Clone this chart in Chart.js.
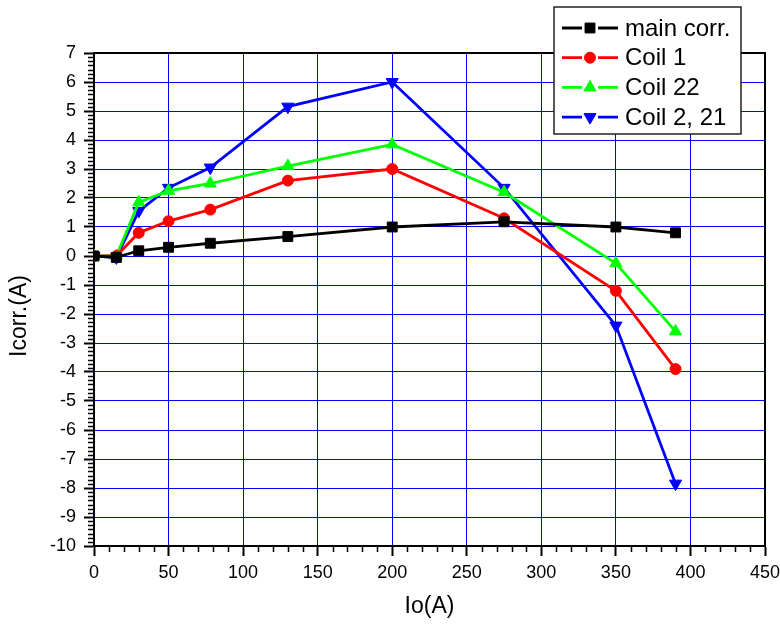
<!DOCTYPE html>
<html>
<head>
<meta charset="utf-8">
<script src="https://cdn.jsdelivr.net/npm/chart.js@4/dist/chart.umd.min.js"></script>
<style>
  html, body { margin: 0; padding: 0; background: #fff; }
  #wrap { width: 780px; height: 625px; }
</style>
</head>
<body>
<div id="wrap"><canvas id="corr-chart"></canvas></div>
<script>
  // Io(A) values where the correction currents were measured
  const ioValues = [0, 15, 30, 50, 78, 130, 200, 275, 350, 390];

  // Icorr.(A) per coil
  const mainCorr = [0, -0.05, 0.18, 0.3, 0.44, 0.67, 1.0, 1.18, 1.0, 0.8];
  const coil1 = [0, 0, 0.8, 1.2, 1.6, 2.6, 3.0, 1.3, -1.2, -3.9];
  const coil22 = [0, 0, 1.85, 2.25, 2.5, 3.1, 3.85, 2.2, -0.25, -2.6];
  const coil2And21 = [0, -0.05, 1.55, 2.35, 3.05, 5.15, 6.0, 2.35, -2.4, -7.85];

  const seriesNames = ['main corr.', 'Coil 1', 'Coil 22', 'Coil 2, 21'];

  const xTicks = [0, 50, 100, 150, 200, 250, 300, 350, 400, 450];
  const yTicks = [-10, -9, -8, -7, -6, -5, -4, -3, -2, -1, 0, 1, 2, 3, 4, 5, 6, 7];

  function toPoints(ys) {
    return ys.map((y, i) => ({ x: ioValues[i], y: y }));
  }

  function makeSet(label, ys, color, style, radius, rotation) {
    return {
      label: label,
      data: toPoints(ys),
      borderColor: color,
      backgroundColor: color,
      borderWidth: 2.8,
      pointStyle: style,
      pointRadius: radius,
      pointHoverRadius: radius,
      pointRotation: rotation || 0,
      pointBorderWidth: 1,
      tension: 0
    };
  }

  // frame on top/right, minor ticks, y title and the legend box
  const framePlugin = {
    id: 'frame',
    beforeDatasetsDraw(chart) {
      const { ctx, chartArea: a } = chart;
      ctx.save();
      ctx.strokeStyle = '#000';
      ctx.lineWidth = 2;
      ctx.beginPath();
      ctx.moveTo(a.left, a.top);
      ctx.lineTo(a.right, a.top);
      ctx.lineTo(a.right, a.bottom);
      ctx.stroke();
      ctx.restore();
    },
    afterDraw(chart) {
      const { ctx, chartArea: a } = chart;
      const xs = chart.scales.x, ys = chart.scales.y;
      ctx.save();
      ctx.strokeStyle = '#000';
      ctx.lineWidth = 1.5;
      ctx.beginPath();
      for (let v = 10; v < 450; v += 10) {
        if (v % 50 === 0) continue;
        const px = Math.round(xs.getPixelForValue(v)) + 0.5;
        ctx.moveTo(px, a.bottom);
        ctx.lineTo(px, a.bottom + 6);
      }
      // 6 minor ticks between each pair of y majors
      for (let k = -70; k < 49; k++) {
        if (k % 7 === 0) continue;
        const py = Math.round(ys.getPixelForValue(k / 7)) + 0.5;
        ctx.moveTo(a.left, py);
        ctx.lineTo(a.left - 6, py);
      }
      ctx.stroke();

      ctx.fillStyle = '#000';
      ctx.font = '23px "Liberation Sans", Arial, sans-serif';
      ctx.textAlign = 'center';
      ctx.textBaseline = 'middle';
      ctx.translate(20, 316);
      ctx.rotate(-Math.PI / 2);
      ctx.fillText('Icorr.(A)', 0, 0);
      ctx.restore();

      ctx.save();
      const bx = 554, by = 7, bw = 187, bh = 127;
      ctx.fillStyle = '#fff';
      ctx.fillRect(bx, by, bw, bh);
      ctx.strokeStyle = '#222';
      ctx.lineWidth = 1.5;
      ctx.strokeRect(bx, by, bw, bh);
      ctx.font = '24px "Liberation Sans", Arial, sans-serif';
      ctx.textAlign = 'left';
      ctx.textBaseline = 'middle';
      chart.data.datasets.forEach((ds, i) => {
        const cy = 28 + i * 29.7;
        ctx.strokeStyle = ds.borderColor;
        ctx.lineWidth = 2.8;
        ctx.beginPath();
        ctx.moveTo(562, cy);
        ctx.lineTo(582, cy);
        ctx.moveTo(598, cy);
        ctx.lineTo(618, cy);
        ctx.stroke();
        ctx.fillStyle = ds.backgroundColor;
        ctx.strokeStyle = ds.borderColor;
        ctx.lineWidth = 1;
        Chart.helpers.drawPoint(ctx, {
          pointStyle: ds.pointStyle,
          rotation: ds.pointRotation,
          radius: ds.pointRadius,
          borderWidth: 1
        }, 590, cy);
        ctx.fillStyle = '#000';
        ctx.fillText(ds.label, 625, cy + 1);
      });
      ctx.restore();
    }
  };

  document.addEventListener('DOMContentLoaded', function() {
    const ctx = document.getElementById('corr-chart').getContext('2d');
    new Chart(ctx, {
      type: 'line',
      data: {
        datasets: [
          makeSet(seriesNames[0], mainCorr, '#000000', 'rect', 7),
          makeSet(seriesNames[1], coil1, '#ff0000', 'circle', 5.5),
          makeSet(seriesNames[2], coil22, '#00ff00', 'triangle', 7),
          makeSet(seriesNames[3], coil2And21, '#0000ff', 'triangle', 7, 180)
        ]
      },
      options: {
        responsive: true,
        maintainAspectRatio: false,
        animation: false,
        layout: { padding: { left: 0, top: 53, right: 15, bottom: 0 } },
        plugins: {
          legend: { display: false },
          tooltip: { enabled: false }
        },
        scales: {
          x: {
            type: 'linear',
            min: 0,
            max: 450,
            afterFit(scale) {
              scale.height = 79;
              scale.paddingLeft = 0;
              scale.paddingRight = 0;
            },
            afterBuildTicks(scale) { scale.ticks = xTicks.map(v => ({ value: v })); },
            ticks: {
              color: '#000',
              font: { family: '"Liberation Sans", Arial, sans-serif', size: 18 },
              padding: 6,
              maxRotation: 0,
              autoSkip: false
            },
            grid: {
              color: '#0000ff',
              lineWidth: 1,
              tickColor: '#000',
              tickLength: 10,
              tickWidth: 2
            },
            border: { color: '#000', width: 2 },
            title: {
              display: true,
              text: 'Io(A)',
              color: '#000',
              font: { family: '"Liberation Sans", Arial, sans-serif', size: 23 },
              padding: { top: 0, bottom: 5 }
            }
          },
          y: {
            type: 'linear',
            min: -10,
            max: 7,
            afterFit(scale) {
              scale.width = 94;
              scale.paddingTop = 0;
              scale.paddingBottom = 0;
            },
            afterBuildTicks(scale) { scale.ticks = yTicks.map(v => ({ value: v })); },
            ticks: {
              color: '#000',
              font: { family: '"Liberation Sans", Arial, sans-serif', size: 18 },
              padding: 8,
              autoSkip: false
            },
            grid: {
              color: '#0000ff',
              lineWidth: 1,
              tickColor: '#000',
              tickLength: 10,
              tickWidth: 2
            },
            border: { color: '#000', width: 2 }
          }
        }
      },
      plugins: [framePlugin]
    });
  });
</script>
</body>
</html>
